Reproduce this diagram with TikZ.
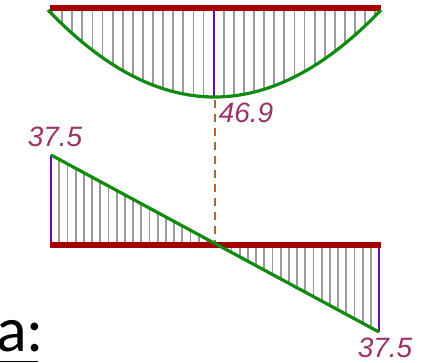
\documentclass[tikz,border=0pt]{standalone}
\usepackage{fontspec}
\setmainfont{Liberation Sans}
\newfontfamily\carl{Carlito}
\definecolor{beamred}{HTML}{A40000}
\definecolor{curvegreen}{HTML}{118A11}
\definecolor{ordpurple}{HTML}{6A0A9A}
\definecolor{hatchgray}{HTML}{9A9A9A}
\definecolor{labelcol}{HTML}{993366}
\definecolor{dashbrown}{HTML}{B0682A}
\begin{document}
\begin{tikzpicture}[x=1pt,y=1pt,
  beam/.style={draw=beamred,line width=5.5pt},
  curve/.style={draw=curvegreen,line width=3.2pt},
  hatch/.style={draw=hatchgray,line width=1.8pt},
  ordline/.style={draw=ordpurple,line width=2.8pt},
  vallabel/.style={text=labelcol,font=\itshape\fontsize{28}{28}\selectfont,inner sep=0pt},
  guide/.style={draw=dashbrown,line width=1.8pt,dash pattern=on 8pt off 6pt}]
\useasboundingbox (0,0) rectangle (425,363);
% ---- moment diagram (top)
\foreach \k in {0,...,32}{
  \pgfmathsetmacro{\xx}{52+10.1*\k}
  \pgfmathsetmacro{\yy}{266+87*((\xx-214.5)/166.5)^2}
  \draw[hatch] (\xx,355) -- (\xx,\yy);
}
\draw[ordline] (214,355) -- (214,266);
\draw[beam] (50,355) -- (381,355);
\draw[curve,domain=48:381,samples=80] plot (\x,{266+87*((\x-214.5)/166.5)^2});
\coordinate (mtop) at (215,263);
\node[vallabel] (m) at (246,250) {46.9};
% ---- shear diagram (bottom)
\coordinate (sl) at (51,208);
\coordinate (sr) at (379,31);
\foreach \k in {1,...,39}{
  \pgfmathsetmacro{\xx}{51+8.2*\k}
  \pgfmathsetmacro{\yy}{208-(177/328)*(\xx-51)}
  \draw[hatch] (\xx,118) -- (\xx,\yy);
}
\coordinate (bl) at (50,118);
\coordinate (br) at (381,118);
\coordinate (sbot) at (215,120);
\draw[guide] (mtop) -- (sbot);
\draw[draw=ordpurple,line width=1.8pt] (51,118) -- (sl);
\draw[ordline] (379,118) -- (sr);
\draw[beam] (bl) -- (br);
\draw[curve] (sl) -- (sr);
\node[vallabel] (l1) at (55,226) {37.5};
\node[vallabel] (l2) at (385,15) {37.5};
% ---- label
\node[anchor=base west,inner sep=0pt,font=\carl\fontsize{64}{64}\selectfont] (a) at (-4,11) {a:};
\draw[line width=1.6pt] (-4,1.5) -- (38,1.5);
\end{tikzpicture}
\end{document}
